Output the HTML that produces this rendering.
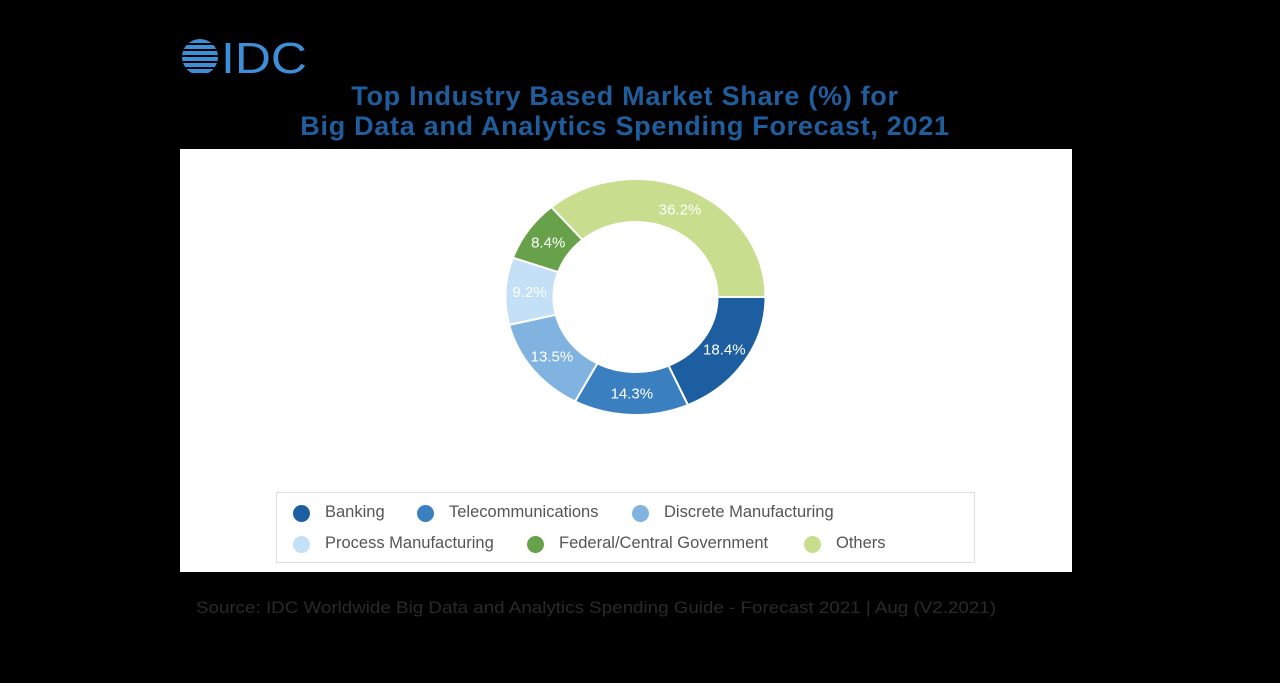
<!DOCTYPE html>
<html><head><meta charset="utf-8"><style>
html,body{margin:0;padding:0;background:#000;width:1280px;height:683px;overflow:hidden;font-family:"Liberation Sans",sans-serif;}
#title{position:absolute;left:0;width:1250px;top:81px;text-align:center;color:#1f5d9c;font-weight:bold;font-size:27px;line-height:30px;letter-spacing:0.7px}
#panel{position:absolute;left:180px;top:149px;width:892px;height:423px;background:#fff}
#legend{position:absolute;left:96px;top:343px;width:699px;height:71px;border:1px solid #ddd;box-sizing:border-box}
.li{position:absolute;font-size:16.5px;color:#555;white-space:nowrap}
.dot{position:absolute;width:17px;height:17px;border-radius:50%}
#source{position:absolute;left:196px;top:594px;}
</style></head><body>
<div style="position:absolute;left:181px;top:38px;width:130px;height:40px">
<svg width="130" height="40">
<defs><clipPath id="cg"><circle cx="19" cy="19" r="18"/></clipPath></defs>
<circle cx="19" cy="19" r="18" fill="#3f8fd8"/>
<g clip-path="url(#cg)" fill="#000">
<rect x="0" y="5" width="40" height="2"/><rect x="0" y="11" width="40" height="2"/><rect x="0" y="17" width="40" height="2"/><rect x="0" y="23" width="40" height="2"/><rect x="0" y="29" width="40" height="2"/><rect x="0" y="35" width="40" height="2"/>
</g>
<text x="40" y="35" font-family="Liberation Sans" font-size="44" fill="#3f8fd8" textLength="86" lengthAdjust="spacingAndGlyphs">IDC</text>
</svg></div>
<div id="title">Top Industry Based Market Share (%) for<br>Big Data and Analytics Spending Forecast, 2021</div>
<div id="panel">
<svg id="donut" width="892" height="330" style="position:absolute;left:0;top:0"></svg>
<div id="legend"></div>
</div>
<svg id="source" width="810" height="26"><text x="0" y="19" font-family="Liberation Sans" font-size="17" fill="#2a2a2a" textLength="800" lengthAdjust="spacingAndGlyphs">Source: IDC Worldwide Big Data and Analytics Spending Guide - Forecast 2021 | Aug (V2.2021)</text></svg>
<script>
const categories=["Banking","Telecommunications","Discrete Manufacturing","Process Manufacturing","Federal/Central Government","Others"];
const values=[18.4,14.3,13.5,9.2,8.4,36.2];
const labels=["18.4%","14.3%","13.5%","9.2%","8.4%","36.2%"];
const colors=["#1c5e9f","#3a7fc0","#80b3df","#c3e0f6","#67a24a","#c8de8e"];
const NS="http://www.w3.org/2000/svg";
const svg=document.getElementById('donut');
const cx=455.5,cy=148,rxo=130,ryo=118,rxi=82,ryi=75;
const total=values.reduce((a,b)=>a+b,0);
function pt(a,rx,ry){return [cx+rx*Math.cos(a),cy+ry*Math.sin(a)];}
let acc=0;
values.forEach((v,i)=>{
  const a0=acc/total*2*Math.PI, a1=(acc+v)/total*2*Math.PI; acc+=v;
  const lg=(a1-a0)>Math.PI?1:0;
  const p0=pt(a0,rxo,ryo),p1=pt(a1,rxo,ryo),p2=pt(a1,rxi,ryi),p3=pt(a0,rxi,ryi);
  const path=document.createElementNS(NS,'path');
  path.setAttribute('d',`M${p0} A${rxo},${ryo} 0 ${lg} 1 ${p1} L${p2} A${rxi},${ryi} 0 ${lg} 0 ${p3} Z`);
  path.setAttribute('fill',colors[i]);path.setAttribute('stroke','#fff');path.setAttribute('stroke-width','2');
  
  
  svg.appendChild(path);
  const am=(a0+a1)/2, lp=pt(am,(rxo+rxi)/2,(ryo+ryi)/2);
  const t=document.createElementNS(NS,'text');
  t.setAttribute('x',lp[0]);t.setAttribute('y',lp[1]+5);t.setAttribute('text-anchor','middle');
  t.setAttribute('font-size','15');t.setAttribute('font-family','Liberation Sans');t.setAttribute('fill','#fff');
  t.textContent=labels[i];
  
  
  svg.appendChild(t);
});
const leg=document.getElementById('legend');
const lx=[16,140,355,16,250,527], ly=[11,11,11,42,42,42];
categories.forEach((c,i)=>{
  const d=document.createElement('div');d.className='dot';d.style.left=lx[i]+'px';d.style.top=(ly[i]+1)+'px';d.style.background=colors[i];
  
  
  leg.appendChild(d);
  const s=document.createElement('div');s.className='li';s.style.left=(lx[i]+32)+'px';s.style.top=(ly[i]-1)+'px';s.textContent=c;
  
  
  leg.appendChild(s);
});
</script>
</body></html>
